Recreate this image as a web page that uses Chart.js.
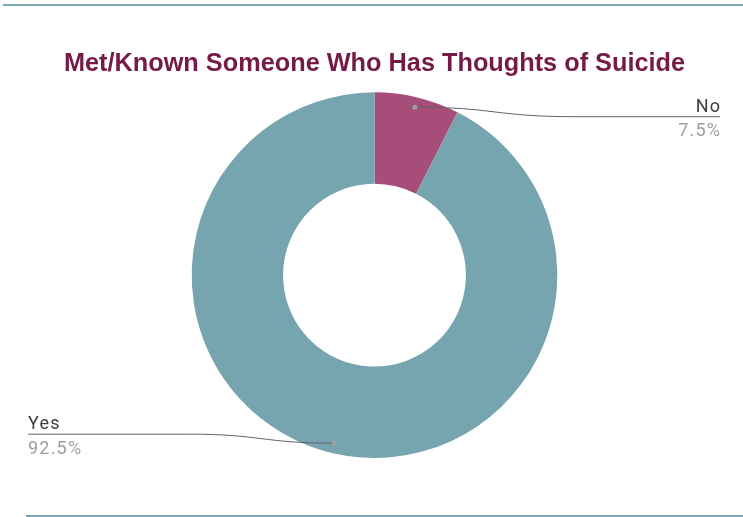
<!DOCTYPE html>
<html>
<head>
<meta charset="utf-8">
<script src="https://cdn.jsdelivr.net/npm/chart.js"></script>
<style>
    html, body { margin: 0; padding: 0; background: #fff; }
    #wrap { position: relative; width: 743px; height: 517px; overflow: hidden; }
    #chart { position: absolute; left: 0; top: 0; }
    .rule { position: absolute; height: 2px; background: #7aa6b0; }
</style>
</head>
<body>
<div id="wrap">
    <div class="rule" style="left:3px; top:4px; width:740px;"></div>
    <canvas id="chart" width="743" height="517"></canvas>
    <div class="rule" style="left:26px; top:515px; width:717px;"></div>
</div>
<script>
// Chart data
const chartTitle = 'Met/Known Someone Who Has Thoughts of Suicide';
const categories = ['No', 'Yes'];
const shares = [7.5, 92.5];
const sliceColors = ['#a64d79', '#76a5af'];

// Leader lines + labels, drawn from the arc geometry
const leaderLabels = {
    id: 'leaderLabels',
    afterDatasetsDraw(chart) {
        const ctx = chart.ctx;
        const meta = chart.getDatasetMeta(0);
        meta.data.forEach((arc, i) => {
            const p = arc.getProps(['x', 'y', 'startAngle', 'endAngle', 'outerRadius']);
            const mid = (p.startAngle + p.endAngle) / 2;
            const dotX = p.x + Math.cos(mid) * p.outerRadius * 0.945;
            const dotY = p.y + Math.sin(mid) * p.outerRadius * 0.945;
            const right = dotX >= p.x;
            const lineY = dotY + (dotY < p.y ? 9.5 : -9);
            const elbowX = right ? dotX + 160 : dotX - 145;
            const endX = right ? chart.width - 23 : 28;

            ctx.save();
            ctx.strokeStyle = '#5f6368';
            ctx.lineWidth = 1;
            ctx.beginPath();
            ctx.moveTo(dotX, dotY);
            ctx.bezierCurveTo(dotX + (elbowX - dotX) * 0.5, dotY,
                              dotX + (elbowX - dotX) * 0.5, lineY,
                              elbowX, lineY);
            ctx.lineTo(endX, lineY);
            ctx.stroke();

            ctx.fillStyle = '#9e9e9e';
            ctx.beginPath();
            ctx.arc(dotX, dotY, 2.5, 0, Math.PI * 2);
            ctx.fill();

            // letter spacing shifts right-aligned text, so place it by measured width
            ctx.font = '18px Roboto, "Liberation Sans", Arial, sans-serif';
            ctx.letterSpacing = '1.2px';
            ctx.textAlign = 'left';
            const name = categories[i];
            const value = shares[i] + '%';
            const nameX = right ? endX - ctx.measureText(name).width + 1.2 : endX;
            const valueX = right ? endX - ctx.measureText(value).width + 1.2 : endX;
            ctx.fillStyle = '#3c4043';
            ctx.textBaseline = 'alphabetic';
            ctx.fillText(name, nameX, lineY - 5);
            ctx.fillStyle = '#9e9e9e';
            ctx.textBaseline = 'top';
            ctx.fillText(value, valueX, lineY + 6);
            ctx.restore();
        });
    }
};

new Chart(document.getElementById('chart'), {
    type: 'doughnut',
    data: {
        labels: categories,
        datasets: [{
            data: shares,
            backgroundColor: sliceColors,
            borderWidth: 0
        }]
    },
    options: {
        responsive: false,
        animation: false,
        cutout: '50%',
        layout: {
            padding: { left: 6, right: 0, top: 0, bottom: 59 }
        },
        plugins: {
            legend: { display: false },
            tooltip: { enabled: false },
            title: {
                display: true,
                text: chartTitle,
                color: '#741b47',
                font: { family: '"Liberation Sans", Arial, sans-serif', size: 25.3, weight: 'bold', lineHeight: 1.2 },
                padding: { top: 49, bottom: 13 }
            }
        }
    },
    plugins: [leaderLabels]
});
</script>
</body>
</html>
